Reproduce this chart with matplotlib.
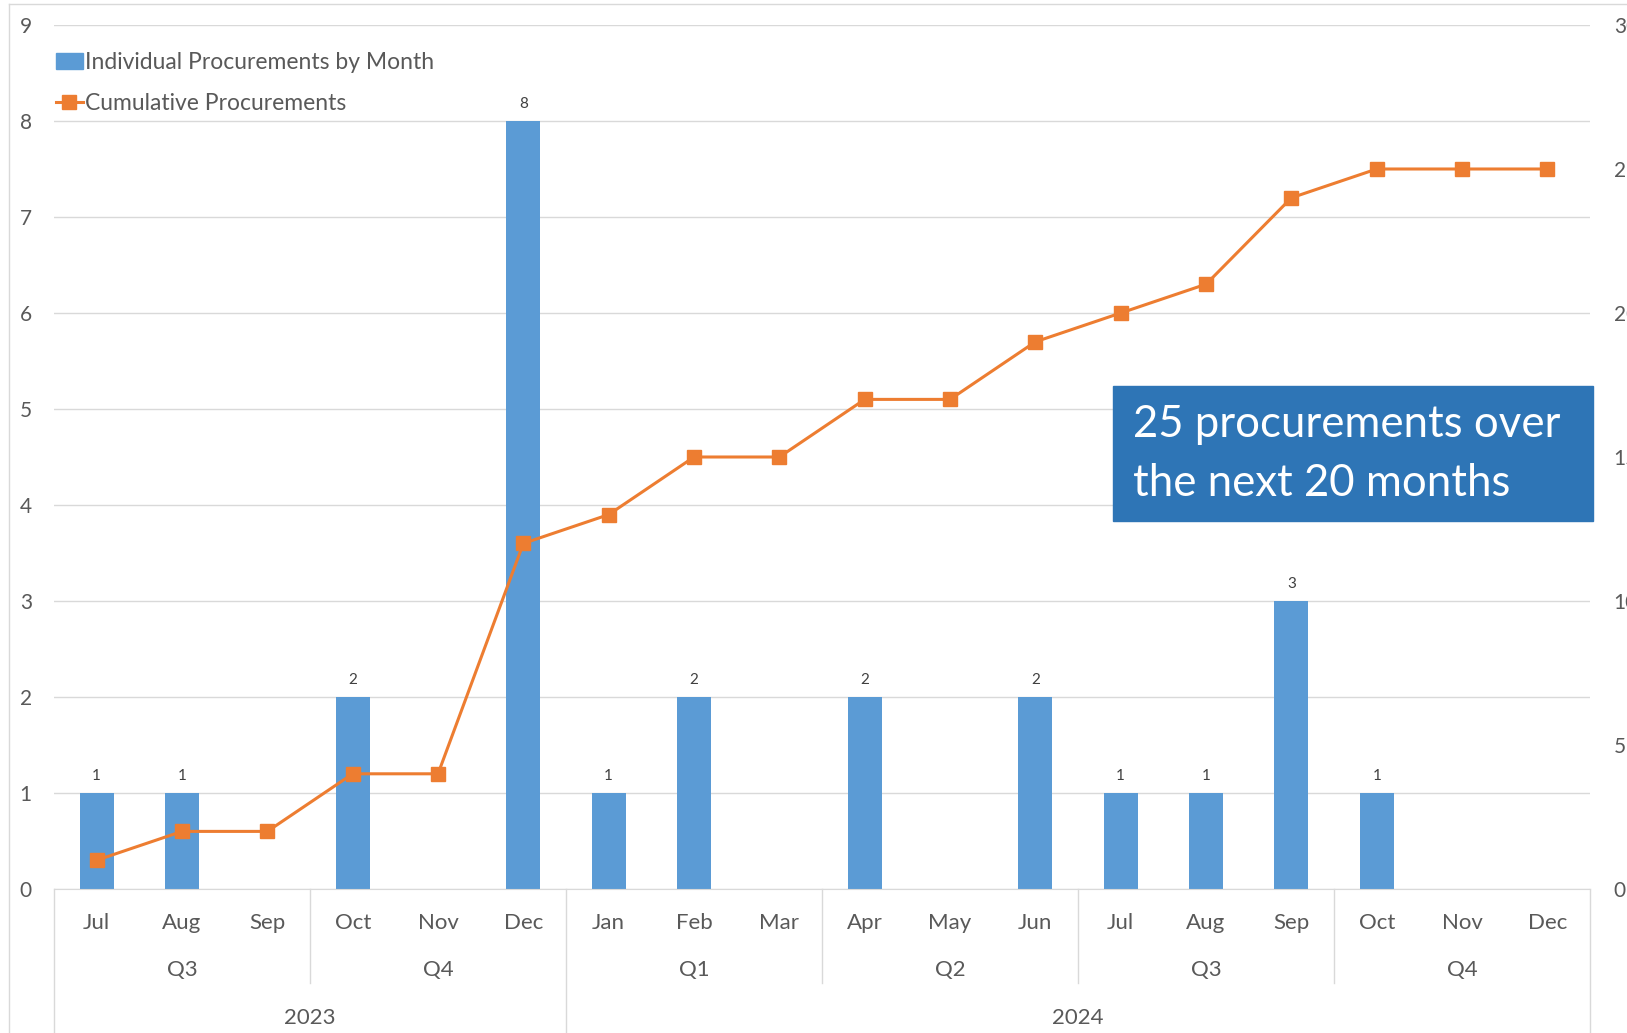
import numpy as np
import matplotlib.pyplot as plt
from matplotlib.patches import Rectangle
from matplotlib.lines import Line2D
from matplotlib.transforms import blended_transform_factory

plt.rcParams['font.family'] = ['Lato', 'DejaVu Sans']

months = ['Jul', 'Aug', 'Sep', 'Oct', 'Nov', 'Dec', 'Jan', 'Feb', 'Mar',
          'Apr', 'May', 'Jun', 'Jul', 'Aug', 'Sep', 'Oct', 'Nov', 'Dec']
quarters = ['Q3', 'Q4', 'Q1', 'Q2', 'Q3', 'Q4']
years = ['2023', '2024']
monthly = [1, 1, 0, 2, 0, 8, 1, 2, 0, 2, 0, 2, 1, 1, 3, 1, 0, 0]
cumulative = [1, 2, 2, 4, 4, 12, 13, 15, 15, 17, 17, 19, 20, 21, 24, 25, 25, 25]

blue = '#5B9BD5'
orange = '#ED7D31'
grey = '#595959'

fig = plt.figure(figsize=(16.27, 10.33), dpi=100)
ax = fig.add_axes([0.0332, 0.1394, 0.9441, 0.8364])
ax2 = ax.twinx()

x = np.arange(len(months))
ax.bar(x, monthly, width=0.4, color=blue, zorder=2)
for xi, v in zip(x, monthly):
    if v > 0:
        ax.annotate(str(v), (xi, v), xytext=(0, 7), textcoords='offset points',
                    ha='center', va='bottom', fontsize=11, color='#404040')

ax2.plot(x, cumulative, color=orange, lw=2.2, marker='s', markersize=10, zorder=3)

ax.set_xlim(-0.5, len(months) - 0.5)
ax.set_ylim(0, 9)
ax2.set_ylim(0, 30)
ax.set_yticks(range(0, 10))
ax2.set_yticks(range(0, 31, 5))
ax.grid(axis='y', color='#D9D9D9', lw=1, zorder=0)
ax.set_axisbelow(True)
ax.set_xticks([])
for a in (ax, ax2):
    for s in a.spines.values():
        s.set_visible(False)
ax.spines['bottom'].set_visible(True)
ax.spines['bottom'].set_color('#D9D9D9')
ax.tick_params(axis='y', length=0, pad=16, labelsize=15, labelcolor=grey)
ax2.tick_params(axis='y', length=0, pad=17, labelsize=15, labelcolor=grey)

# multi-level category axis
tr = blended_transform_factory(ax.transData, ax.transAxes)
for xi, m in zip(x, months):
    ax.text(xi, -0.039, m, transform=tr, ha='center', va='center', fontsize=16, color=grey)
for i, q in enumerate(quarters):
    ax.text(3 * i + 1, -0.094, q, transform=tr, ha='center', va='center', fontsize=16, color=grey)
ax.text(2.5, -0.149, years[0], transform=tr, ha='center', va='center', fontsize=16, color=grey)
ax.text(11.5, -0.149, years[1], transform=tr, ha='center', va='center', fontsize=16, color=grey)
for xs in [2.5, 8.5, 11.5, 14.5]:
    ax.add_line(Line2D([xs, xs], [0, -0.109], transform=tr, color='#D9D9D9', lw=1, clip_on=False))
for xs in [-0.5, 5.5, 17.5]:
    ax.add_line(Line2D([xs, xs], [0, -0.2], transform=tr, color='#D9D9D9', lw=1, clip_on=False))

handles = [Rectangle((0, 0), 1, 1, color=blue),
           Line2D([], [], color=orange, lw=2.2, marker='s', markersize=10)]
ax2.legend(handles, ['Individual Procurements by Month', 'Cumulative Procurements'],
           loc='upper left', bbox_to_anchor=(-0.005, 0.979), frameon=False, fontsize=16.5,
           labelcolor=grey, handlelength=1.2, handletextpad=0.1, labelspacing=0.85,
           borderaxespad=0)

# callout box
fig.patches.append(Rectangle((1113 / 1627, 1 - 521 / 1033), 480 / 1627, 135 / 1033,
                             transform=fig.transFigure, color='#2E75B6', zorder=5))
fig.text(1133 / 1627, 1 - 454 / 1033, '25 procurements over\nthe next 20 months',
         ha='left', va='center', fontsize=31.5, color='white', linespacing=1.55, zorder=6)

# frame edge of the screenshot
fig.add_artist(Line2D([0.0055, 1], [0.996, 0.996], transform=fig.transFigure, color='#D9D9D9', lw=1))
fig.add_artist(Line2D([0.0055, 0.0055], [0, 0.996], transform=fig.transFigure, color='#D9D9D9', lw=1))

fig.savefig('out.png', dpi=100)
